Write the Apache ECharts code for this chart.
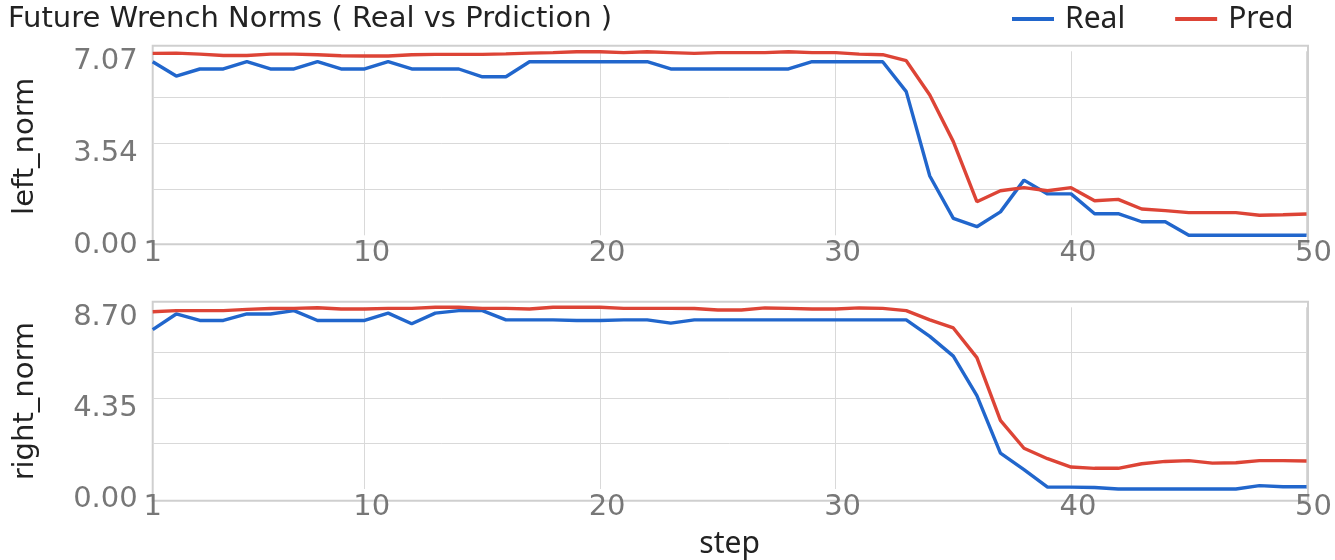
<!DOCTYPE html>
<html>
<head>
<meta charset="utf-8">
<script src="https://cdn.jsdelivr.net/npm/echarts@6/dist/echarts.min.js"></script>
<style>
html,body{margin:0;padding:0;background:#fff;}
#chart{width:1335px;height:560px;}
</style>
</head>
<body>
<div id="chart"></div>
<script>
const steps = [1,2,3,4,5,6,7,8,9,10,11,12,13,14,15,16,17,18,19,20,21,22,23,24,25,26,27,28,29,30,31,32,33,34,35,36,37,38,39,40,41,42,43,44,45,46,47,48,49,50];
const xTickLabels = [1,10,20,30,40,50];

const leftReal = [6.67,6.12,6.39,6.39,6.67,6.39,6.39,6.67,6.39,6.39,
                  6.67,6.39,6.39,6.39,6.09,6.09,6.67,6.67,6.67,6.67,
                  6.67,6.67,6.39,6.39,6.39,6.39,6.39,6.39,6.67,6.67,
                  6.67,6.67,5.52,2.28,0.65,0.33,0.90,2.12,1.59,1.59,
                  0.83,0.83,0.52,0.52,0.0,0.0,0.0,0.0,0.0,0.0];
const leftPred = [6.99,7.00,6.96,6.91,6.91,6.96,6.96,6.94,6.90,6.89,
                  6.89,6.94,6.95,6.95,6.95,6.97,7.00,7.02,7.05,7.05,
                  7.02,7.05,7.02,6.99,7.02,7.02,7.02,7.05,7.02,7.02,
                  6.96,6.94,6.71,5.39,3.60,1.29,1.71,1.83,1.71,1.83,
                  1.33,1.38,1.01,0.95,0.87,0.87,0.87,0.77,0.79,0.82];
const rightReal = [7.63,8.38,8.07,8.07,8.38,8.38,8.54,8.07,8.07,8.07,
                   8.42,7.91,8.42,8.54,8.54,8.10,8.10,8.10,8.07,8.07,
                   8.10,8.10,7.94,8.10,8.10,8.10,8.10,8.10,8.10,8.10,
                   8.10,8.10,8.10,7.31,6.36,4.47,1.72,0.93,0.09,0.09,
                   0.07,0.0,0.0,0.0,0.0,0.0,0.0,0.16,0.11,0.11];
const rightPred = [8.49,8.54,8.54,8.54,8.60,8.64,8.65,8.68,8.62,8.62,
                   8.65,8.65,8.70,8.70,8.65,8.65,8.62,8.70,8.70,8.70,
                   8.65,8.65,8.65,8.64,8.57,8.57,8.67,8.65,8.62,8.62,
                   8.67,8.65,8.54,8.10,7.71,6.29,3.29,1.95,1.45,1.05,
                   0.99,0.99,1.21,1.32,1.36,1.24,1.26,1.36,1.36,1.34];

const leftTicks = ['0.00','3.54','7.07'];
const rightTicks = ['0.00','4.35','8.70'];
const leftMax = 7.07;
const rightMax = 8.70;

const BLUE = '#2166CC';
const RED = '#DD4436';
const BORDER = '#cfcfcf';
const GRID = '#d9d9d9';
const LABEL = '#777777';
const DARK = '#222222';

const chart = echarts.init(document.getElementById('chart'), null, {renderer: 'canvas'});

function hiddenX(gi){ return {gridIndex: gi, type: 'value', show: false, min: 0, max: 1}; }
function hiddenY(gi){ return {gridIndex: gi, type: 'value', show: false, min: 0, max: 1}; }

function innerX(gi, withName){
  const ax = {
    gridIndex: gi,
    type: 'category',
    data: steps,
    boundaryGap: false,
    axisLine: {show: false},
    axisTick: {show: false},
    axisLabel: {
      interval: function(i, v){ return xTickLabels.indexOf(Number(v)) >= 0; },
      margin: 4,
      color: LABEL,
      fontFamily: 'DejaVu Sans',
      fontSize: 29,
      formatter: function(v){ return Number(v) === 1 ? '{n|' + v + '}' : '{p|' + v + '}'; },
      rich: {
        n: {fontFamily: 'DejaVu Sans', fontSize: 29, color: LABEL},
        p: {fontFamily: 'DejaVu Sans', fontSize: 29, color: LABEL, padding: [0,0,0,14]}
      }
    },
    splitLine: {
      show: true,
      interval: function(i, v){ return Number(v) % 10 === 0; },
      lineStyle: {color: GRID, width: 1}
    }
  };
  if (withName) {
    ax.name = 'step';
    ax.nameLocation = 'middle';
    ax.nameGap = 40;
    ax.nameTextStyle = {fontFamily: 'Noto Sans', fontSize: 30, color: DARK};
  }
  return ax;
}

function innerY(gi, maxV, ticks, name){
  const iv = maxV / 4;
  return {
    gridIndex: gi,
    type: 'value',
    min: 0,
    max: maxV,
    interval: iv,
    name: name,
    nameLocation: 'middle',
    nameRotate: 90,
    nameGap: 113,
    nameTextStyle: {fontFamily: 'DejaVu Sans', fontSize: 29, color: DARK, padding: [0, 6, 0, 0]},
    axisLine: {show: false},
    axisTick: {show: false},
    axisLabel: {
      margin: 15,
      color: LABEL,
      fontFamily: 'DejaVu Sans',
      fontSize: 29,
      formatter: function(v){
        const k = Math.round(v / iv);
        return (k % 2 === 0) ? '{a|' + ticks[k / 2] + '}' : '';
      },
      rich: {
        a: {fontFamily: 'DejaVu Sans', fontSize: 29, color: LABEL, padding: [20, 0, 0, 0]}
      }
    },
    splitLine: {show: true, showMinLine: false, showMaxLine: false, lineStyle: {color: GRID, width: 1}}
  };
}

function line(name, data, color, gi){
  return {
    name: name, type: 'line', data: data,
    xAxisIndex: gi, yAxisIndex: gi,
    showSymbol: false, symbol: 'none', clip: false,
    lineStyle: {color: color, width: 3.4},
    itemStyle: {color: color},
    emphasis: {disabled: true},
    animation: false
  };
}

const option = {
  animation: false,
  backgroundColor: '#ffffff',
  title: {
    text: 'Future Wrench Norms ( Real vs Prdiction )',
    left: 3, top: 0,
    textStyle: {fontFamily: 'DejaVu Sans', fontSize: 29, fontWeight: 'normal', color: DARK}
  },
  legend: {
    data: ['Real', 'Pred'],
    left: 1012, top: 4, padding: 0,
    icon: 'rect', itemWidth: 42, itemHeight: 4, itemGap: 50,
    textStyle: {fontFamily: 'Noto Sans', fontSize: 30, color: DARK, padding: [8, 0, 0, 6]}
  },
  grid: [
    {left: 152.7, right: 27, top: 45.7, height: 198.6, show: true, borderColor: BORDER, borderWidth: 2, backgroundColor: 'transparent'},
    {left: 152.7, right: 27, top: 51.3, height: 184},
    {left: 152.7, right: 27, top: 301.7, height: 199, show: true, borderColor: BORDER, borderWidth: 2, backgroundColor: 'transparent'},
    {left: 152.7, right: 27, top: 307.3, height: 184}
  ],
  xAxis: [hiddenX(0), innerX(1, false), hiddenX(2), innerX(3, true)],
  yAxis: [hiddenY(0), innerY(1, leftMax, leftTicks, 'left_norm'), hiddenY(2), innerY(3, rightMax, rightTicks, 'right_norm')],
  series: [
    line('Real', leftReal, BLUE, 1),
    line('Pred', leftPred, RED, 1),
    line('Real', rightReal, BLUE, 3),
    line('Pred', rightPred, RED, 3)
  ]
};
chart.setOption(option);
</script>
</body>
</html>
